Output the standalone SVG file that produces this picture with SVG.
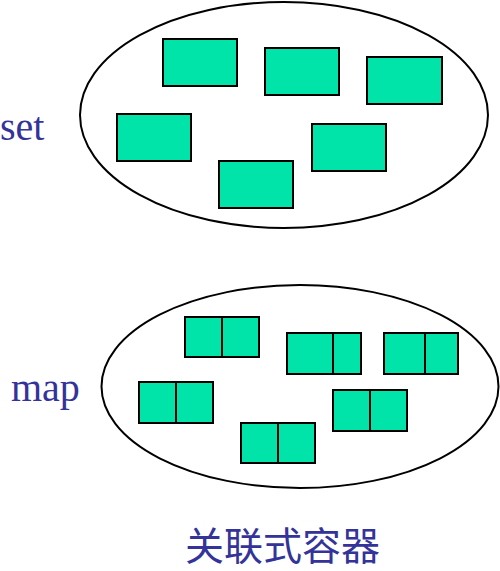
<svg xmlns="http://www.w3.org/2000/svg" width="500" height="571" viewBox="0 0 500 571">
<style>
.ell{fill:#fff;stroke:#000;stroke-width:2}
.box{fill:#00E3A9;stroke:#000;stroke-width:2}
.div{stroke:#000;stroke-width:2}
.lbl{font-family:"Liberation Serif",serif;font-size:40px;fill:#333399}
.cap{font-family:"Liberation Serif","Noto Sans CJK SC",serif;font-size:39px;fill:#333399}
</style>
<rect width="500" height="571" fill="#fff"/>
<g id="set">
<ellipse class="ell" cx="284" cy="115" rx="204" ry="113"/>
<text class="lbl" x="0" y="140">set</text>
</g>
<g id="set-item-1"><rect class="box" x="163" y="39" width="74" height="47"/></g>
<g id="set-item-2"><rect class="box" x="265" y="48" width="74" height="47"/></g>
<g id="set-item-3"><rect class="box" x="367" y="57" width="75" height="47"/></g>
<g id="set-item-4"><rect class="box" x="117" y="114" width="74" height="47"/></g>
<g id="set-item-5"><rect class="box" x="312" y="124" width="74" height="47"/></g>
<g id="set-item-6"><rect class="box" x="219" y="161" width="74" height="47"/></g>
<g id="map">
<ellipse class="ell" cx="300" cy="386.5" rx="198.5" ry="101.5"/>
<text class="lbl" x="11" y="401">map</text>
</g>
<g id="map-item-1"><rect class="box" x="185" y="317" width="74" height="40"/><line class="div" x1="222" y1="317" x2="222" y2="357"/></g>
<g id="map-item-2"><rect class="box" x="287" y="333" width="74" height="41"/><line class="div" x1="333" y1="333" x2="333" y2="374"/></g>
<g id="map-item-3"><rect class="box" x="384" y="333" width="74" height="41"/><line class="div" x1="425" y1="333" x2="425" y2="374"/></g>
<g id="map-item-4"><rect class="box" x="139" y="382" width="74" height="41"/><line class="div" x1="176" y1="382" x2="176" y2="423"/></g>
<g id="map-item-5"><rect class="box" x="333" y="390" width="74" height="41"/><line class="div" x1="370" y1="390" x2="370" y2="431"/></g>
<g id="map-item-6"><rect class="box" x="241" y="423" width="74" height="40"/><line class="div" x1="278" y1="423" x2="278" y2="463"/></g>
<g id="connectors"/>
<text class="cap" x="185" y="560">关联式容器</text>
</svg>
